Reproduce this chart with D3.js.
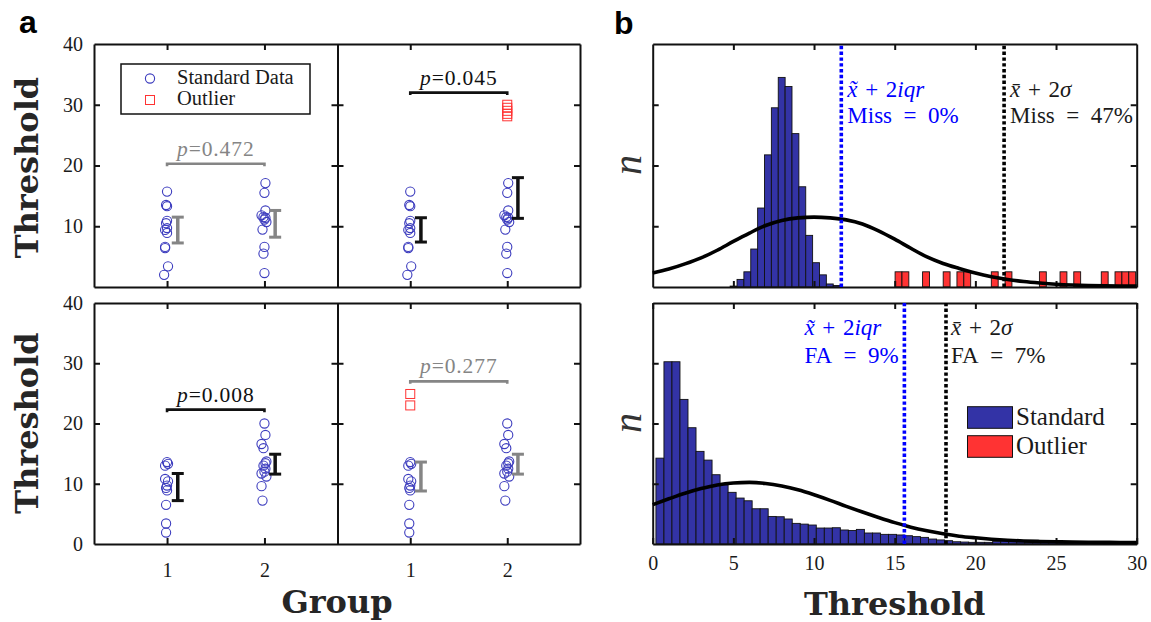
<!DOCTYPE html>
<html><head><meta charset="utf-8">
<script src="https://cdn.jsdelivr.net/npm/d3@7"></script>
<style>body{margin:0;background:#fff}svg{display:block}</style>
</head><body>
<script>
// ================= DATA =================
// ---- panel a ----
const groups = [1, 2];
const aYTicks = [0, 10, 20, 30, 40];
// standard data, top row (same subjects both panels)
const topG1 = [15.7, 13.5, 13.3, 10.9, 10.5, 9.7, 9.4, 8.9, 6.6, 6.4, 3.4, 2.0];
const topG1Jit = [0.0, -0.01, 0.0, 0.0, -0.01, 0.0, -0.02, 0.0, -0.02, -0.02, 0.01, -0.03];
const topG2 = [17.1, 15.5, 12.6, 11.8, 11.5, 11.4, 11.1, 10.7, 9.45, 6.6, 5.5, 2.3];
const topG2Jit = [0.01, 0.0, 0.01, -0.03, -0.01, 0.01, 0.0, 0.02, -0.02, 0.0, -0.01, 0.0];
// standard data, bottom row
const botG1 = [13.6, 13.3, 13.0, 10.8, 10.4, 9.7, 9.3, 8.9, 6.5, 3.4, 1.9];
const botG1Jit = [0.0, 0.01, -0.02, -0.02, 0.01, 0.0, -0.01, 0.0, -0.01, -0.01, -0.01];
const botG2 = [20.0, 18.1, 16.6, 15.9, 13.7, 13.4, 13.0, 12.5, 12.0, 11.7, 11.2, 9.6, 7.2];
const botG2Jit = [0.0, 0.01, -0.03, -0.01, 0.02, 0.01, -0.01, 0.01, 0.0, -0.03, 0.02, -0.03, -0.02];
// outliers
const outTRg2 = [30.0, 29.5, 29.0, 28.5, 28.1];
const outBRg1 = [24.9, 23.0];
// error bars [low, high] per group
const errTL = [[7.25, 11.5], [8.2, 12.6]];
const errTR = [[7.4, 11.4], [11.3, 18.0]];
const errBL = [[7.2, 11.7], [11.6, 14.9]];
const errBR = [[8.8, 13.6], [11.6, 14.9]];
// p values and bracket heights (TL, TR, BL, BR)
const pLabels = ["0.472", "0.045", "0.008", "0.277"];
const pLevels = [20.3, 32.0, 22.3, 27.0];

// ---- panel b ----
const bXTicks = [0, 5, 10, 15, 20, 25, 30];
const bYTicks = [4, 8, 12];
const topBinStart = 4.8, topBinWidth = 0.426;
const topStandard = [0.06, 0.5, 1.0, 2.5, 5.2, 8.7, 11.8, 13.8, 13.2, 10.1, 6.6, 3.4, 1.6, 0.8, 0.2, 0.1];
const topOutlierBins = [24, 25, 28, 31, 33, 34, 38, 40, 45, 48, 50, 54, 56, 57, 58];
const topOutlierN = [1, 1, 1, 1, 1, 1, 1, 1, 1, 1, 1, 1, 1, 1, 1];
const botBinStart = 0.2, botBinWidth = 0.497;
const botStandard = [5.7, 12.1, 12.1, 9.6, 7.72, 6.15, 5.57, 4.6, 3.93, 3.43,
  3.05, 2.87, 2.34, 2.34, 1.83, 1.81, 1.66, 1.37, 1.32, 1.26,
  1.06, 1.06, 1.08, 0.93, 0.9, 0.97, 0.73, 0.73, 0.64, 0.64,
  0.6, 0.55, 0.49, 0.44, 0.33, 0.27, 0.22, 0.15, 0.13, 0.11,
  0.11, 0.11, 0.18, 0.2, 0.2, 0.18, 0.09, 0.2, 0.11, 0.11,
  0.09, 0.07, 0.09, 0.07, 0.07, 0.05, 0.07, 0.09, 0.07, 0.07];
const fitX = [0,1,2,3,4,5,6,7,8,9,10,11,12,13,14,15,16,17,18,19,20,21,22,23,24,25,26,27,28,29,30];
const topFit = [0.92,1.18,1.52,1.92,2.42,3.0,3.55,4.05,4.38,4.55,4.6,4.55,4.42,4.15,3.7,3.15,2.55,1.98,1.55,1.22,0.92,0.68,0.5,0.36,0.26,0.18,0.13,0.1,0.08,0.07,0.07];
const botFit = [2.61,3.0,3.37,3.68,3.92,4.05,4.09,4.02,3.85,3.6,3.27,2.9,2.5,2.12,1.76,1.42,1.12,0.88,0.68,0.52,0.41,0.32,0.25,0.2,0.17,0.15,0.13,0.12,0.11,0.1,0.1];
const topMedLine = 11.69, topMeanLine = 21.78;
const botMedLine = 15.6, botMeanLine = 18.18;
const topRates = ["0%", "47%"];   // Miss
const botRates = ["9%", "7%"];    // FA
const legendB = ["Standard", "Outlier"];
const legendA = ["Standard Data", "Outlier"];

// ================= DRAW =================
const W = 1151, H = 622;
const svg = d3.select("body").append("svg").attr("width", W).attr("height", H)
  .style("font-family", "'Liberation Serif', serif");

const BLUE = "#3c3cbe", RED = "#ff3333", GRAY = "#858585", INK = "#111";
const rows = [[44, 287], [303, 544]];
const aCols = [[94, 337.5], [337.5, 580]];

function frameAxes(g, x, y, xt, yt, showX, xPad, fs) {
  const [x0, x1] = x.range(), [y1, y0] = y.range();
  const mk = (axis, tr, labels, pad) => {
    const a = g.append("g").attr("transform", tr)
      .call(axis.tickSizeInner(-6).tickSizeOuter(0).tickPadding(pad)
        .tickFormat(labels ? d3.format("d") : () => ""));
    a.select(".domain").attr("stroke", INK).attr("stroke-width", 2);
    a.selectAll(".tick line").attr("stroke", INK).attr("stroke-width", 2);
    a.selectAll("text").attr("font-size", fs).attr("fill", "#1a1a1a")
      .style("font-family", "'Liberation Serif', serif");
    return a;
  };
  mk(d3.axisBottom(x).tickValues(xt), `translate(0,${y1})`, showX, xPad);
  mk(d3.axisTop(x).tickValues(xt), `translate(0,${y0})`, false, 0);
  mk(d3.axisLeft(y).tickValues(yt), `translate(${x0},0)`, false, 0);
  mk(d3.axisRight(y).tickValues(yt), `translate(${x1},0)`, false, 0);
}

// ---------- panel a ----------
const subplots = [
  { r: 0, c: 0, g: [topG1, topG2], j: [topG1Jit, topG2Jit], out: [[], []], err: errTL, k: 0 },
  { r: 0, c: 1, g: [topG1, topG2], j: [topG1Jit, topG2Jit], out: [[], outTRg2], err: errTR, k: 1 },
  { r: 1, c: 0, g: [botG1, botG2], j: [botG1Jit, botG2Jit], out: [[], []], err: errBL, k: 2 },
  { r: 1, c: 1, g: [botG1, botG2], j: [botG1Jit, botG2Jit], out: [outBRg1, []], err: errBR, k: 3 },
];

subplots.forEach(sp => {
  const x = d3.scaleLinear().domain([0.25, 2.75]).range(aCols[sp.c]);
  const y = d3.scaleLinear().domain([0, 40]).range([rows[sp.r][1], rows[sp.r][0]]);
  const g = svg.append("g");
  const yt = sp.r === 0 ? aYTicks.slice(1) : aYTicks;
  frameAxes(g, x, y, groups, [10, 20, 30], sp.r === 1, 19, 20);
  if (sp.c === 0) {
    g.append("g").selectAll("text").data(yt).join("text")
      .attr("x", aCols[0][0] - 11).attr("y", d => y(d)).attr("dy", "0.34em")
      .attr("text-anchor", "end").attr("font-size", 20).attr("fill", "#1a1a1a")
      .text(d => d);
  }
  // points
  sp.g.forEach((vals, gi) => {
    g.append("g").selectAll("circle").data(vals).join("circle")
      .attr("cx", (d, i) => x(groups[gi] + sp.j[gi][i])).attr("cy", d => y(d))
      .attr("r", 4.6).attr("fill", "none").attr("stroke", BLUE).attr("stroke-width", 1.1);
    g.append("g").selectAll("rect").data(sp.out[gi]).join("rect")
      .attr("x", d => x(groups[gi]) - 4.5).attr("y", d => y(d) - 4.5)
      .attr("width", 9).attr("height", 9).attr("fill", "none")
      .attr("stroke", RED).attr("stroke-width", 1);
  });
  const sig = +pLabels[sp.k] < 0.05;
  const col = sig ? INK : GRAY;
  // error bars
  sp.err.forEach((e, gi) => {
    const xc = x(groups[gi] + 0.11);
    const eg = g.append("g").attr("stroke", col);
    eg.append("line").attr("x1", xc).attr("x2", xc).attr("y1", y(e[0])).attr("y2", y(e[1])).attr("stroke-width", 3.5);
    e.forEach(v => eg.append("line").attr("x1", xc - 6).attr("x2", xc + 6)
      .attr("y1", y(v)).attr("y2", y(v)).attr("stroke-width", 3));
  });
  // p bracket
  const py = y(pLevels[sp.k]);
  g.append("path").attr("d", `M${x(1)},${py + 2.5}V${py}H${x(2)}V${py + 2.5}`)
    .attr("fill", "none").attr("stroke", col).attr("stroke-width", 2.6);
  const t = g.append("text").attr("x", x(1.5)).attr("y", py - 8).attr("text-anchor", "middle")
    .attr("font-size", 21.5).attr("letter-spacing", 0.9).attr("fill", col);
  t.append("tspan").attr("font-style", "italic").text("p");
  t.append("tspan").text("=" + pLabels[sp.k]);
});

// panel a legend
{
  const lg = svg.append("g");
  lg.append("rect").attr("x", 121).attr("y", 64).attr("width", 189).attr("height", 50)
    .attr("fill", "#fff").attr("stroke", INK).attr("stroke-width", 1.5);
  lg.append("circle").attr("cx", 150).attr("cy", 78.5).attr("r", 4.6).attr("fill", "none")
    .attr("stroke", BLUE).attr("stroke-width", 1.1);
  lg.append("rect").attr("x", 145.5).attr("y", 95.5).attr("width", 9).attr("height", 9)
    .attr("fill", "none").attr("stroke", RED).attr("stroke-width", 1);
  lg.selectAll("text").data(legendA).join("text").attr("x", 177).attr("y", (d, i) => 83.5 + i * 21.5)
    .attr("font-size", 20.5).attr("fill", "#1a1a1a").text(d => d);
}

// axis titles panel a
svg.append("text").attr("x", 337).attr("y", 613).attr("text-anchor", "middle")
  .attr("font-family", "'DejaVu Serif', serif").attr("font-weight", "bold").attr("font-size", 32)
  .attr("fill", "#262626").text("Group");
[167.5, 423].forEach(cy => svg.append("text").attr("transform", `translate(38,${cy}) rotate(-90)`)
  .attr("text-anchor", "middle").attr("font-family", "'DejaVu Serif', serif")
  .attr("font-weight", "bold").attr("font-size", 32).attr("fill", "#262626").text("Threshold"));

// ---------- panel b ----------
const xB = d3.scaleLinear().domain([0, 30]).range([652.7, 1136.7]);
const yTop = d3.scaleLinear().domain([0, 16]).range([rows[0][1], rows[0][0]]);
const yBot = d3.scaleLinear().domain([0, 16]).range([rows[1][1], rows[1][0]]);
const line = y => d3.line().x((d, i) => xB(fitX[i])).y(d => y(d)).curve(d3.curveMonotoneX);
const FS = 23;

function bars(g, y, start, w, idx, vals, fill) {
  g.append("g").selectAll("rect").data(vals).join("rect")
    .attr("x", (d, i) => xB(start + idx[i] * w)).attr("width", xB(w) - xB(0))
    .attr("y", d => y(d)).attr("height", d => y(0) - y(d))
    .attr("fill", fill).attr("stroke", "#111").attr("stroke-width", 0.9);
}
function vline(g, y, v, color) {
  g.append("line").attr("x1", xB(v)).attr("x2", xB(v)).attr("y1", y.range()[0]).attr("y2", y.range()[1])
    .attr("stroke", color).attr("stroke-width", 3.6).attr("stroke-dasharray", "3.4,2.4");
}
function mathText(g, x, y, color, kind) {
  const t = g.append("text").attr("x", x).attr("y", y).attr("font-size", FS).attr("fill", color);
  t.append("tspan").attr("font-style", "italic").text(kind === "iqr" ? "x\u0303" : "x\u0304");
  t.append("tspan").text("\u2004+\u20042");
  t.append("tspan").attr("font-style", "italic").text(kind === "iqr" ? "iqr" : "\u03c3");
  return t;
}
function rateText(g, x, y, color, label, val) {
  g.append("text").attr("x", x).attr("y", y).attr("font-size", FS).attr("fill", color)
    .text(label + "\u2002=\u2002" + val);
}

// top histogram
{
  const g = svg.append("g");
  bars(g, yTop, topBinStart, topBinWidth, topStandard.map((d, i) => i), topStandard, "#3333a6");
  bars(g, yTop, topBinStart, topBinWidth, topOutlierBins, topOutlierN, RED);
  frameAxes(g, xB, yTop, [5, 10, 15, 20, 25], bYTicks, false, 0, 20);
  g.append("path").datum(topFit).attr("d", line(yTop)).attr("fill", "none")
    .attr("stroke", "#000").attr("stroke-width", 3.6);
  vline(g, yTop, topMedLine, "#0000ff");
  vline(g, yTop, topMeanLine, "#000");
  mathText(g, xB(topMedLine) + 6, 96.5, "#0000ff", "iqr");
  rateText(g, xB(topMedLine) + 6, 123, "#0000ff", "Miss", topRates[0]);
  mathText(g, xB(topMeanLine) + 6, 96.5, "#1a1a1a", "sig");
  rateText(g, xB(topMeanLine) + 6, 123, "#1a1a1a", "Miss", topRates[1]);
}
// bottom histogram
{
  const g = svg.append("g");
  bars(g, yBot, botBinStart, botBinWidth, botStandard.map((d, i) => i), botStandard, "#3333a6");
  frameAxes(g, xB, yBot, bXTicks, bYTicks, true, 12, 20);
  g.append("path").datum(botFit).attr("d", line(yBot)).attr("fill", "none")
    .attr("stroke", "#000").attr("stroke-width", 3.6);
  vline(g, yBot, botMedLine, "#0000ff");
  vline(g, yBot, botMeanLine, "#000");
  mathText(g, xB(botMedLine) - 100, 335, "#0000ff", "iqr");
  rateText(g, xB(botMedLine) - 100, 362.5, "#0000ff", "FA", botRates[0]);
  mathText(g, xB(botMeanLine) + 5, 335, "#1a1a1a", "sig");
  rateText(g, xB(botMeanLine) + 5, 362.5, "#1a1a1a", "FA", botRates[1]);
  // legend
  const lg = g.append("g");
  ["#3333a6", RED].forEach((c, i) => lg.append("rect").attr("x", 967.5).attr("y", 406.7 + i * 29)
    .attr("width", 45).attr("height", 21.6).attr("fill", c).attr("stroke", "#111").attr("stroke-width", 1));
  lg.selectAll("text").data(legendB).join("text").attr("x", 1016).attr("y", (d, i) => 425 + i * 29)
    .attr("font-size", 25).attr("fill", "#1a1a1a").text(d => d);
}
// labels panel b
[165, 423].forEach(cy => svg.append("text").attr("transform", `translate(641,${cy}) rotate(-90)`)
  .attr("text-anchor", "middle").attr("font-style", "italic").attr("font-size", 40)
  .attr("fill", "#333").text("n"));
svg.append("text").attr("x", 894.7).attr("y", 615).attr("text-anchor", "middle")
  .attr("font-family", "'DejaVu Serif', serif").attr("font-weight", "bold").attr("font-size", 32)
  .attr("fill", "#262626").text("Threshold");

// panel letters
svg.append("text").attr("x", 19).attr("y", 33).attr("font-family", "'Liberation Sans', Arial, sans-serif")
  .attr("font-weight", "bold").attr("font-size", 32).attr("fill", "#000").text("a");
svg.append("text").attr("x", 614).attr("y", 34).attr("font-family", "'Liberation Sans', Arial, sans-serif")
  .attr("font-weight", "bold").attr("font-size", 32).attr("fill", "#000").text("b");
</script>
</body></html>
